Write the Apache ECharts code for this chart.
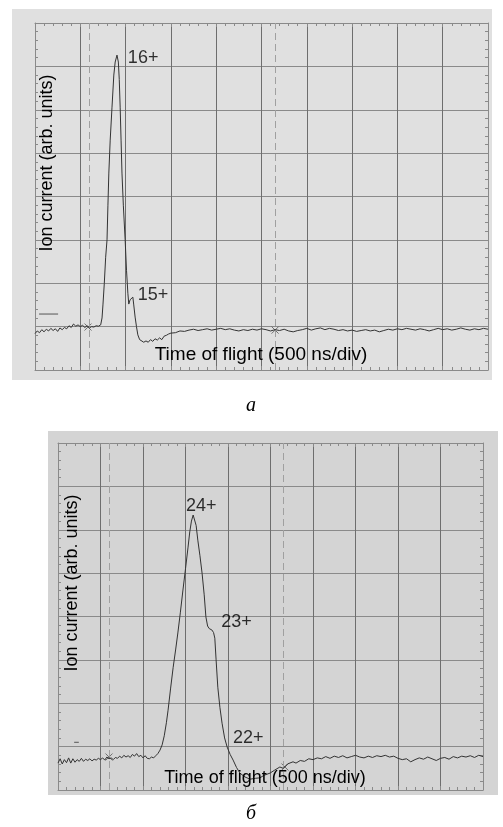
<!DOCTYPE html>
<html>
<head>
<meta charset="utf-8">
<title>Time of flight spectra</title>
<script src="https://cdn.jsdelivr.net/npm/echarts@6/dist/echarts.min.js"></script>
<style>
    html, body { margin: 0; padding: 0; background: #fff; }
    #chart { width: 503px; height: 827px; }
</style>
</head>
<body>
<div id="chart"></div>
<script>
// trace a: 16+ / 15+ (x in divisions of 500 ns, y in grid divisions)
const traceA = [
    [0, 0.84], [0.05, 0.9], [0.1, 0.86], [0.15, 0.93], [0.2, 0.88], [0.25, 0.94], [0.3, 0.9], [0.35, 0.96],
    [0.4, 0.91], [0.45, 0.95], [0.5, 0.89], [0.55, 0.97], [0.6, 0.93], [0.65, 0.98], [0.7, 0.95], [0.75, 1.02],
    [0.8, 0.98], [0.85, 1.06], [0.9, 1.01], [0.95, 1.04], [1.0, 1.0], [1.05, 1.03], [1.1, 0.98], [1.15, 1.02],
    [1.2, 0.97], [1.25, 1.0], [1.3, 0.99], [1.35, 1.02], [1.4, 1.01], [1.45, 1.04], [1.48, 1.2], [1.5, 1.5],
    [1.53, 2.0], [1.56, 2.6], [1.59, 3.0], [1.61, 3.8], [1.63, 4.54], [1.66, 5.3], [1.7, 6.06], [1.74, 6.8],
    [1.77, 7.1], [1.81, 7.26], [1.84, 7.1], [1.86, 6.7], [1.88, 6.06], [1.9, 5.3], [1.92, 4.54], [1.95, 3.8],
    [1.99, 3.0], [2.02, 2.3], [2.05, 1.77], [2.07, 1.52], [2.1, 1.62], [2.13, 1.58], [2.16, 1.68], [2.18, 1.5],
    [2.21, 1.22], [2.24, 1.0], [2.27, 0.81], [2.31, 0.7], [2.35, 0.66], [2.4, 0.64], [2.45, 0.67], [2.5, 0.64],
    [2.55, 0.7], [2.6, 0.66], [2.65, 0.72], [2.7, 0.69], [2.75, 0.74], [2.8, 0.7], [2.85, 0.78], [2.9, 0.8],
    [2.95, 0.83], [3.0, 0.85], [3.1, 0.86], [3.2, 0.9], [3.3, 0.89], [3.4, 0.92], [3.5, 0.94], [3.6, 0.91],
    [3.7, 0.93], [3.8, 0.95], [3.9, 0.92], [4.0, 0.94], [4.1, 0.96], [4.2, 0.93], [4.3, 0.95], [4.4, 0.92],
    [4.5, 0.9], [4.6, 0.93], [4.7, 0.91], [4.8, 0.94], [4.9, 0.92], [5.0, 0.95], [5.1, 0.93], [5.2, 0.9],
    [5.3, 0.93], [5.4, 0.91], [5.5, 0.94], [5.6, 0.9], [5.7, 0.88], [5.8, 0.91], [5.9, 0.93], [6.0, 0.96],
    [6.1, 0.92], [6.2, 0.95], [6.3, 0.97], [6.4, 0.93], [6.5, 0.96], [6.6, 0.94], [6.7, 0.91], [6.8, 0.93],
    [6.9, 0.9], [7.0, 0.92], [7.1, 0.89], [7.2, 0.91], [7.3, 0.93], [7.4, 0.9], [7.5, 0.92], [7.6, 0.88],
    [7.7, 0.91], [7.8, 0.94], [7.9, 0.92], [8.0, 0.95], [8.1, 0.93], [8.2, 0.96], [8.3, 0.94], [8.4, 0.92],
    [8.5, 0.95], [8.6, 0.93], [8.7, 0.9], [8.8, 0.93], [8.9, 0.96], [9.0, 0.93], [9.1, 0.95], [9.2, 0.92],
    [9.3, 0.94], [9.4, 0.97], [9.5, 0.94], [9.6, 0.92], [9.7, 0.95], [9.8, 0.93], [9.9, 0.96], [10, 0.94]
];

// trace б: 24+ / 23+ / 22+
const traceB = [
    [0, 0.62], [0.05, 0.72], [0.1, 0.6], [0.15, 0.7], [0.2, 0.63], [0.25, 0.74], [0.3, 0.62], [0.35, 0.72],
    [0.4, 0.64], [0.45, 0.7], [0.5, 0.66], [0.55, 0.73], [0.6, 0.66], [0.65, 0.71], [0.7, 0.68], [0.75, 0.72],
    [0.8, 0.67], [0.85, 0.71], [0.9, 0.69], [0.95, 0.73], [1.0, 0.7], [1.05, 0.74], [1.1, 0.69], [1.15, 0.76],
    [1.2, 0.72], [1.25, 0.74], [1.3, 0.7], [1.35, 0.75], [1.4, 0.73], [1.45, 0.78], [1.5, 0.74], [1.55, 0.8],
    [1.6, 0.76], [1.65, 0.79], [1.7, 0.75], [1.75, 0.82], [1.8, 0.78], [1.85, 0.84], [1.9, 0.77], [1.95, 0.8],
    [2.0, 0.74], [2.05, 0.79], [2.1, 0.73], [2.15, 0.72], [2.2, 0.76], [2.25, 0.74], [2.3, 0.79], [2.35, 0.84],
    [2.4, 0.92], [2.45, 1.04], [2.5, 1.25], [2.55, 1.55], [2.59, 1.84], [2.65, 2.35], [2.71, 2.83], [2.77, 3.25],
    [2.82, 3.62], [2.88, 4.1], [2.94, 4.61], [3.0, 5.1], [3.06, 5.6], [3.1, 5.95], [3.14, 6.2], [3.18, 6.34],
    [3.21, 6.3], [3.25, 6.1], [3.29, 5.76], [3.34, 5.4], [3.39, 5.0], [3.44, 4.5], [3.48, 3.99], [3.52, 3.78],
    [3.56, 3.72], [3.62, 3.69], [3.66, 3.63], [3.69, 3.5], [3.72, 3.0], [3.76, 2.37], [3.81, 1.9], [3.86, 1.54],
    [3.92, 1.2], [3.98, 0.99], [4.05, 0.82], [4.12, 0.69], [4.2, 0.52], [4.28, 0.39], [4.4, 0.3], [4.52, 0.25],
    [4.65, 0.27], [4.75, 0.28], [4.85, 0.34], [4.99, 0.39], [5.1, 0.46], [5.22, 0.53], [5.3, 0.5], [5.4, 0.6],
    [5.53, 0.65], [5.6, 0.62], [5.7, 0.68], [5.8, 0.66], [5.9, 0.72], [6.0, 0.7], [6.1, 0.74], [6.2, 0.72],
    [6.3, 0.77], [6.4, 0.73], [6.5, 0.78], [6.6, 0.75], [6.7, 0.79], [6.8, 0.74], [6.9, 0.77], [7.0, 0.8],
    [7.1, 0.76], [7.2, 0.74], [7.3, 0.78], [7.4, 0.75], [7.5, 0.79], [7.6, 0.77], [7.7, 0.8], [7.8, 0.76],
    [7.9, 0.78], [8.0, 0.73], [8.1, 0.7], [8.2, 0.72], [8.3, 0.65], [8.4, 0.7], [8.5, 0.74], [8.6, 0.71],
    [8.7, 0.76], [8.8, 0.72], [8.9, 0.68], [9.0, 0.73], [9.1, 0.75], [9.2, 0.71], [9.3, 0.77], [9.4, 0.74],
    [9.5, 0.78], [9.6, 0.76], [9.7, 0.79], [9.8, 0.75], [9.9, 0.8], [10, 0.77]
];

// peak labels [text, x, y]
const peaksA = [['16+', 2.05, 7.19], ['15+', 2.27, 1.73]];
const peaksB = [['24+', 3.01, 6.54], ['23+', 3.84, 3.87], ['22+', 4.12, 1.2]];

// dashed cursor lines and the trigger crosses on them
const cursorsA = [1.2, 5.3];
const cursorsB = [1.2, 5.3];
const crossesA = [[1.17, 0.99], [5.3, 0.92]];
const crossesB = [[1.2, 0.76], [5.34, 0.53]];

// ground level marker on the left
const groundA = [[0.09, 1.29], [0.51, 1.29]];
const groundB = [[0.38, 1.1], [0.49, 1.1]];

const xTitle = 'Time of flight (500 ns/div)';
const yTitle = 'Ion current (arb. units)';

const vLine = '#6e6e6e';
const hLine = '#8a8a8a';
const traceColor = '#333';
const font = 'Liberation Sans, Arial, sans-serif';

function xAxis( grid, pos ) {
    return {
        type: 'value', gridIndex: grid, position: pos, min: 0, max: 10, interval: 1,
        axisLabel: { show: false },
        axisLine: { show: true, onZero: false, lineStyle: { color: hLine, width: 1 } },
        axisTick: { show: true, inside: true, length: 4, lineStyle: { color: hLine } },
        minorTick: { show: true, splitNumber: 5, length: 3, lineStyle: { color: hLine } },
        splitLine: { show: pos === 'bottom', lineStyle: { color: vLine, width: 1 } }
    };
}

function yAxis( grid, pos ) {
    return {
        type: 'value', gridIndex: grid, position: pos, min: 0, max: 8, interval: 1,
        axisLabel: { show: false },
        axisLine: { show: true, onZero: false, lineStyle: { color: hLine, width: 1 } },
        axisTick: { show: true, inside: true, length: 4, lineStyle: { color: hLine } },
        minorTick: { show: true, splitNumber: 5, length: 3, lineStyle: { color: hLine } },
        splitLine: { show: pos === 'left', lineStyle: { color: hLine, width: 1 } }
    };
}

function panelSeries( axis, trace, peaks, cursors, crosses, ground ) {
    return [
        {
            type: 'line', xAxisIndex: axis, yAxisIndex: axis, data: trace,
            showSymbol: false, silent: true, z: 5,
            lineStyle: { color: traceColor, width: 1 },
            markLine: {
                silent: true, symbol: 'none', label: { show: false },
                lineStyle: { type: [7, 4], color: '#a0a0a0', width: 1 },
                data: cursors.map( x => ( { xAxis: x } ) )
            }
        },
        {
            type: 'line', xAxisIndex: axis, yAxisIndex: axis, data: ground,
            showSymbol: false, silent: true, lineStyle: { color: '#555', width: 1 }
        },
        {
            type: 'scatter', xAxisIndex: axis, yAxisIndex: axis, data: crosses,
            symbol: 'path://M0,0L10,10M10,0L0,10', symbolSize: 7, silent: true,
            itemStyle: { color: 'none', borderColor: '#555', borderWidth: 1 }
        },
        {
            type: 'scatter', xAxisIndex: axis, yAxisIndex: axis, symbolSize: 0, silent: true, z: 10,
            data: peaks.map( p => ( { name: p[0], value: [p[1], p[2]] } ) ),
            label: {
                show: true, position: 'right', distance: 0, formatter: '{b}',
                color: '#000', fontSize: 18, fontFamily: font, textBorderWidth: 0
            }
        }
    ];
}

const option = {
    animation: false,
    backgroundColor: '#fff',
    grid: [
        { left: 35, top: 23, width: 453, height: 347 },
        { left: 58, top: 443, width: 425, height: 347 }
    ],
    xAxis: [ xAxis( 0, 'bottom' ), xAxis( 0, 'top' ), xAxis( 1, 'bottom' ), xAxis( 1, 'top' ) ],
    yAxis: [ yAxis( 0, 'left' ), yAxis( 0, 'right' ), yAxis( 1, 'left' ), yAxis( 1, 'right' ) ],
    graphic: [
        // panel backgrounds
        { type: 'rect', z: -10, silent: true, shape: { x: 12, y: 9, width: 480, height: 371 }, style: { fill: '#e0e0e0' } },
        { type: 'rect', z: -10, silent: true, shape: { x: 48, y: 431, width: 450, height: 364 }, style: { fill: '#d4d4d4' } },
        // axis titles
        { type: 'text', x: 261, y: 355, z: 10, silent: true, style: { text: xTitle, font: '19px ' + font, fill: '#000', align: 'center', verticalAlign: 'middle' } },
        { type: 'text', x: 47, y: 163, rotation: Math.PI / 2, z: 10, silent: true, style: { text: yTitle, font: '18px ' + font, fill: '#000', align: 'center', verticalAlign: 'middle' } },
        { type: 'text', x: 265, y: 778, z: 10, silent: true, style: { text: xTitle, font: '18px ' + font, fill: '#000', align: 'center', verticalAlign: 'middle' } },
        { type: 'text', x: 72, y: 583, rotation: Math.PI / 2, z: 10, silent: true, style: { text: yTitle, font: '18px ' + font, fill: '#000', align: 'center', verticalAlign: 'middle' } },
        // captions
        { type: 'text', x: 251, y: 406, silent: true, style: { text: 'a', font: 'italic 20px Liberation Serif, Times New Roman, serif', fill: '#000', align: 'center', verticalAlign: 'middle' } },
        { type: 'text', x: 251, y: 814, silent: true, style: { text: 'б', font: 'italic 20px Liberation Serif, Times New Roman, serif', fill: '#000', align: 'center', verticalAlign: 'middle' } }
    ],
    series: [
        ...panelSeries( 0, traceA, peaksA, cursorsA, crossesA, groundA ),
        ...panelSeries( 2, traceB, peaksB, cursorsB, crossesB, groundB )
    ]
};

document.addEventListener( 'DOMContentLoaded', function () {
    const chart = echarts.init( document.getElementById( 'chart' ), null, { renderer: 'canvas' } );
    chart.setOption( option );
} );
</script>
</body>
</html>
